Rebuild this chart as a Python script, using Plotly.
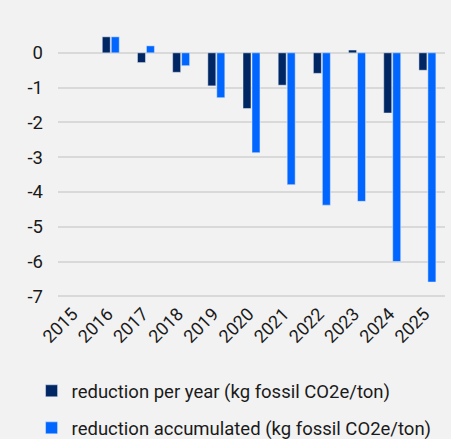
import plotly.graph_objects as go

years = ["2015", "2016", "2017", "2018", "2019", "2020", "2021", "2022", "2023", "2024", "2025"]
per_year = [None, 0.46, -0.28, -0.56, -0.95, -1.60, -0.93, -0.59, 0.08, -1.73, -0.50]
accumulated = [None, 0.46, 0.20, -0.37, -1.29, -2.87, -3.79, -4.38, -4.27, -6.00, -6.59]
y_ticks = [0, -1, -2, -3, -4, -5, -6, -7]

font = dict(family="Roboto", size=18.5, color="#1a1a1a")

fig = go.Figure()
fig.add_bar(x=years, y=per_year, name="reduction per year (kg fossil CO2e/ton)",
            marker_color="#002663", legendgroup="a")
fig.add_bar(x=years, y=accumulated, name="reduction accumulated (kg fossil CO2e/ton)",
            marker_color="#0066ff", legendgroup="b")

fig.update_layout(
    width=451, height=439,
    margin=dict(l=58, r=6, t=25, b=134, autoexpand=False),
    paper_bgcolor="#f2f2f2", plot_bgcolor="#f2f2f2",
    font=font,
    barmode="group", bargap=0.49, bargroupgap=0.11,
    showlegend=True,
    legend=dict(orientation="v", xref="container", yref="container",
                x=0.07, y=0.152, xanchor="left", yanchor="top",
                traceorder="grouped", tracegroupgap=10,
                bgcolor="rgba(0,0,0,0)", font=font),
)
fig.update_xaxes(type="category", tickangle=-45, showgrid=False, zeroline=False,
                 showline=False, ticks="", tickfont=dict(font, size=18),
                 ticklabelstandoff=-6, ticklabelshift=-3, automargin=False)
fig.update_yaxes(range=[-7.25, 0.8], tickvals=y_ticks, ticktext=[str(v) for v in y_ticks],
                 showgrid=True, gridcolor="#d9d9d9", gridwidth=1.5,
                 zeroline=False, showline=False, ticks="", tickfont=font,
                 ticklabelstandoff=14, automargin=False)

fig.write_html("out.html", config={"displayModeBar": False},
               post_script="document.body.style.margin='0px';document.body.style.background='#f2f2f2';")
